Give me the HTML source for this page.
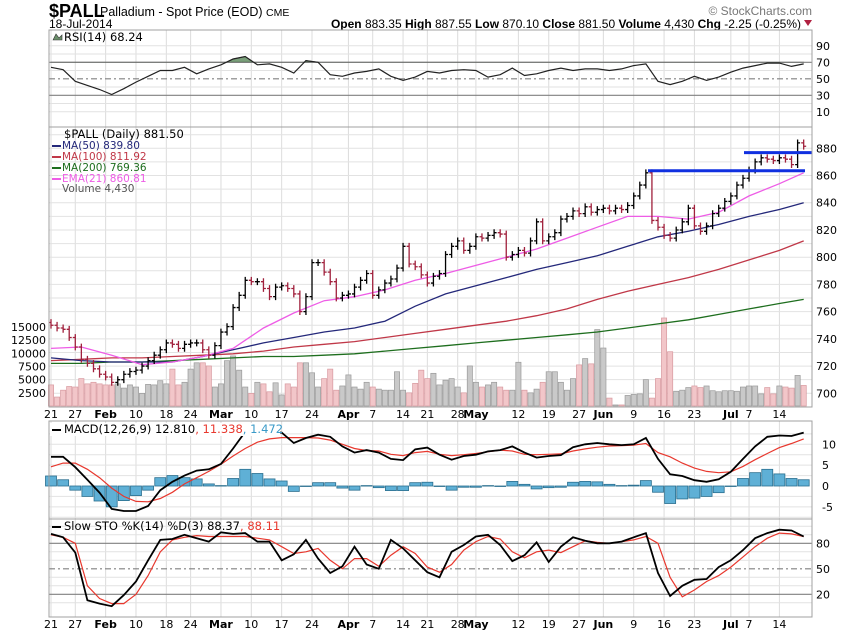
<!DOCTYPE html>
<html><head><meta charset="utf-8"><style>
html,body{margin:0;padding:0;background:#fff;}
svg{display:block;font-family:"DejaVu Sans","Liberation Sans",sans-serif;}
</style></head><body>
<svg id="chart" width="850" height="633" viewBox="0 0 850 633">
<g>
<text x="49" y="17" font-size="18" font-weight="bold" font-family="Liberation Sans, sans-serif">$PALL</text>
<text x="100" y="16" font-size="12.5" font-family="Liberation Sans, sans-serif">Palladium - Spot Price (EOD) <tspan font-size="10.5">CME</tspan></text>
<text x="49" y="28" font-size="12" font-family="Liberation Sans, sans-serif">18-Jul-2014</text>
<text x="812" y="15" font-size="12" fill="#777" text-anchor="end" font-family="Liberation Sans, sans-serif">© StockCharts.com</text>
<text x="801" y="28" font-size="12" text-anchor="end" font-family="Liberation Sans, sans-serif"><tspan font-weight="bold">Open</tspan> 883.35  <tspan font-weight="bold">High</tspan> 887.55  <tspan font-weight="bold">Low</tspan> 870.10  <tspan font-weight="bold">Close</tspan> 881.50  <tspan font-weight="bold">Volume</tspan> 4,430  <tspan font-weight="bold">Chg</tspan> -2.25 (-0.25%)</text>
<polygon points="804,20 812,20 808,26" fill="#b02040"/>
</g>
<g id="grid"></g>
<g id="marks"></g>
<g id="frames"></g>
<g id="labels"></g>
</svg>
<script>
// ---- data ----
const closes = [750,748,747,741,734,725,722,718,714,
712,708,710,714,716,717,720,724,728,732,737,736,733,736,737,737,732,728,735,
745,749,763,772,783,782,782,777,771,778,779,777,773,760,771,796,796,789,782,770,772,
773,778,783,788,772,776,781,784,792,808,795,793,787,781,786,788,802,808,812,805,808,
815,814,816,818,817,800,802,805,803,812,826,812,815,818,828,830,834,832,837,833,835,
836,834,836,835,838,845,853,862,827,822,816,814,820,826,836,823,819,823,832,836,841,
845,853,858,864,870,873,872,871,873,872,868,884,881.5];
const firstOpen = 752;
const volumes = [4000,1700,3000,3700,3600,5200,4200,4500,4200,
4000,4000,4200,3400,4000,3600,2400,4100,4000,4800,4200,7000,4000,4500,7000,8200,8200,7600,3600,
4200,8600,9500,6800,3600,2400,4500,4200,2700,4400,2100,4200,3600,8200,8200,6300,3600,5200,7000,3000,3800,
5900,3600,3200,4500,3600,3200,3000,3000,6500,3000,2500,4300,6800,5200,6200,4000,4900,5200,3600,2500,7600,
4500,3600,4000,4500,3600,3000,3000,8300,3000,2500,3200,4500,6500,6500,4500,3000,5200,7800,9000,8000,14500,
11000,1500,200,200,2000,2200,2300,5000,1500,5200,16700,10300,2800,3000,3500,3800,3500,3800,2900,2700,2900,
2900,2800,3600,3800,3800,2300,3500,2300,3800,3600,3400,5800,3900];
const ma50 = [726,724,723,723,723,727,732,737,741,745,748,753,764,773,779,785,791,796,801,808,815,819,824,830,835,840];
const ma100 = [724,725,726,726,727,728,729,731,734,736,738,741,744,747,750,753,757,762,769,775,780,785,791,798,805,812];
const ma200 = [722,722,723,723,724,725,726,727,727,728,729,731,733,735,737,739,741,743,745,748,751,754,758,762,766,769];
const ema21 = [733,734,728,721,723,727,733,748,759,768,771,776,783,788,794,800,806,814,822,830,830,828,833,845,854,862];
const rsi = [64,61,47,42,37,31,38,46,53,60,60,64,56,62,67,74,77,67,68,64,57,72,70,55,53,57,59,62,53,48,52,59,57,60,61,60,52,55,63,54,56,60,63,60,62,62,60,62,66,68,47,43,47,53,48,52,58,63,66,69,69,65,68];
const macd = [7,7,4.5,1.5,-1.6,-5.5,-6,-6,-4.8,-1,1,2.5,3.7,4,5.3,9,13,13.5,13,12.8,10.3,11.5,12.3,11.8,9.5,8,8.6,8,6.5,6.2,8.8,9.2,7.5,6.3,7.2,7.5,8.3,8.6,9.5,8,6.8,7.2,7.4,9.3,10,10.3,10,9.8,10,11.5,6.5,2.8,2.4,1.4,1,1.6,3.4,6.5,9.5,11.8,12.1,12,12.8];
const signal = [4.6,5.5,5.5,4,2,-0.5,-2.5,-3.7,-3.8,-3,-1.5,0.5,2,3.5,5.2,7.2,9,10.5,11.3,11.6,11.6,11.6,11.5,11,10,9,8.5,8.4,7.6,7.3,8,8.3,7.6,7.3,7.5,7.8,8.2,8.6,8.4,7.6,7.5,7.6,7.7,8.4,8.9,9.3,9.6,9.7,9.8,10.2,8,7,5.5,4.3,3.5,3.2,3.4,4.7,6.3,7.8,9.2,10.2,11.3];
const stoK = [91,87,69,13,9,6,19,35,60,84,85,90,86,82,93,91,92,82,82,60,67,84,62,45,53,76,55,50,84,74,60,46,40,70,78,88,90,78,59,66,81,58,76,87,83,80,80,82,87,92,45,18,30,37,38,52,60,72,86,92,96,95,88];
const stoD = [90,87,80,30,15,9,9,20,42,70,84,87,89,88,88,88,88,86,84,76,68,70,74,60,50,62,62,53,66,76,68,52,46,55,72,82,88,85,70,63,70,72,69,76,83,81,80,82,84,88,80,40,17,25,35,42,52,64,76,86,92,91,88];
const dateLabels = ["21","27","Feb","10","18","24","Mar","10","17","24","Apr","7","14","21","28","May","12","19","27","Jun","9","16","23","Jul","7","14"];
const dateIdx = [0,4,9,14,19,23,28,33,38,43,49,53,58,62,67,70,77,82,87,91,96,101,106,112,115,120];
const rsiTicks = [90,70,50,30,10];
const priceTicks = [880,860,840,820,800,780,760,740,720,700];
const volTicks = [15000,12500,10000,7500,5000,2500];
const macdTicks = [10,5,0,-5];
const stoTicks = [80,50,20];
const resistanceLevels = [863.5,876.8];

const L=49,R=812;
const xDay=i=>51+i*6.07;
const xS2=k=>xDay(2*k);
const xS5=k=>xDay(Math.min(5*k,124));
const yRsi=v=>62.3+(70-v)*0.825;
const yP=v=>148.3+(880-v)*1.3611;
const yV=v=>406-v*0.00527;
const yM=v=>486-v*4.17;
const yS=v=>611.3-v*0.85;
const NS='http://www.w3.org/2000/svg';
function mk(parent,tag,attrs){const e=document.createElementNS(NS,tag);for(const k in attrs)e.setAttribute(k,attrs[k]);document.getElementById(parent).appendChild(e);return e;}
function pathOf(arr,xf,yf){return arr.map((v,k)=>(k?'L':'M')+xf(k).toFixed(1)+','+yf(v).toFixed(1)).join('');}

const panels=[[30,127],[127,407],[421,519],[519,617]];
dateIdx.forEach((d,j)=>{
  const x=xDay(d);
  panels.forEach(p=>{
    const g=mk('grid','line',{x1:x,x2:x,y1:p[0],y2:p[1],stroke:'#dcdcdc','stroke-width':1});
    
    
  });
});
function hgrid(vals,yf,name){vals.forEach(v=>{const g=mk('grid','line',{x1:L,x2:R,y1:yf(v),y2:yf(v),stroke:'#e2e2e2','stroke-width':1});

});}
hgrid([10,20,40,60,80,90],yRsi,'rsi-gridline');
hgrid([890,880,870,860,850,840,830,820,810,800,790,780,770,760,750,740,730,720,710,700],yP,'price-gridline');
hgrid([12.5,10,7.5,5,2.5,-2.5,-5,-7.5],yM,'macd-gridline');
hgrid([100,90,70,60,40,30,10],yS,'sto-gridline');
function ref(y,dash,name){const e=mk('grid','line',{x1:L,x2:R,y1:y,y2:y,stroke:'#808080','stroke-width':1.2});if(dash)e.setAttribute('stroke-dasharray','6,3,2,3');

}
ref(yRsi(70),0,'rsi-overbought-line');ref(yRsi(30),0,'rsi-oversold-line');ref(yRsi(50),1,'rsi-midline');
ref(yS(80),0,'sto-overbought-line');ref(yS(20),0,'sto-oversold-line');ref(yS(50),1,'sto-midline');

volumes.forEach((v,i)=>{
  const prev=i?closes[i-1]:firstOpen;
  const down=closes[i]<prev;
  const b=mk('marks','rect',{x:xDay(i)-2.6,y:yV(v),width:5.2,height:406-yV(v),fill:down?'#f2c6c9':'#c9c9c9',stroke:down?'#d89aa0':'#9a9a9a','stroke-width':0.7});
  
  
});
[[ma200,'#1e6e1e','ma200-line'],[ma100,'#c03848','ma100-line'],[ma50,'#24287a','ma50-line'],[ema21,'#ee5ce6','ema21-line']].forEach(a=>{
  const p=mk('marks','path',{d:pathOf(a[0],xS5,yP),fill:'none',stroke:a[1],'stroke-width':1.3});
  
  
});
closes.forEach((c,i)=>{
  const o=i?closes[i-1]:firstOpen;
  const down=c<o;
  const col=down?'#a0203c':'#000';
  const hi=Math.max(o,c)+2.5,lo=Math.min(o,c)-2.5;
  const x=xDay(i);
  const d='M'+x+','+yP(hi)+'V'+yP(lo)+'M'+(x-2.5)+','+yP(o)+'H'+x+'M'+x+','+yP(c)+'H'+(x+2.5);
  const p=mk('marks','path',{d:d,stroke:col,'stroke-width':1.3,fill:'none'});
  
  
});
[[resistanceLevels[0],648,805],[resistanceLevels[1],744,812]].forEach(r=>{
  const l=mk('marks','line',{x1:r[1],x2:r[2],y1:yP(r[0]),y2:yP(r[0]),stroke:'#1030e0','stroke-width':3});
  
  
});
mk('marks','clipPath',{id:'rsiclip'});
const rc=document.createElementNS(NS,'rect');rc.setAttribute('x',L);rc.setAttribute('y',30);rc.setAttribute('width',R-L);rc.setAttribute('height',yRsi(70)-30);document.getElementById('rsiclip').appendChild(rc);
const rf=mk('marks','path',{d:pathOf(rsi,xS2,yRsi)+'L'+xS2(rsi.length-1)+','+yRsi(70)+'L'+xS2(0)+','+yRsi(70)+'Z',fill:'#7a9f7a',stroke:'#333','stroke-width':0.8,'clip-path':'url(#rsiclip)'});


const rl=mk('marks','path',{d:pathOf(rsi,xS2,yRsi),fill:'none',stroke:'#222','stroke-width':1.2});


macd.forEach((m,k)=>{
  const h=m-signal[k];
  const y0=Math.min(yM(0),yM(h)),hh=Math.abs(yM(h)-yM(0));
  const b=mk('marks','rect',{x:xS2(k)-5.5,y:y0,width:11,height:Math.max(hh,0.5),fill:'#5fb0d6',stroke:'#2a6f8f','stroke-width':0.8});
  
  
});
mk('marks','clipPath',{id:'mclip'});
const mc=document.createElementNS(NS,'rect');mc.setAttribute('x',L);mc.setAttribute('y',421);mc.setAttribute('width',R-L);mc.setAttribute('height',98);document.getElementById('mclip').appendChild(mc);
const ms=mk('marks','path',{d:pathOf(signal,xS2,yM),fill:'none',stroke:'#e8382e','stroke-width':1.2,'clip-path':'url(#mclip)'});


const ml=mk('marks','path',{d:pathOf(macd,xS2,yM),fill:'none',stroke:'#000','stroke-width':1.8,'clip-path':'url(#mclip)'});


const sd=mk('marks','path',{d:pathOf(stoD,xS2,yS),fill:'none',stroke:'#e8382e','stroke-width':1.2});


const sk=mk('marks','path',{d:pathOf(stoK,xS2,yS),fill:'none',stroke:'#000','stroke-width':1.8});



panels.forEach(p=>{
  const f=mk('frames','rect',{x:L,y:p[0],width:R-L,height:p[1]-p[0],fill:'none',stroke:'#a0a0a0','stroke-width':1});
  
  
});
function txt(x,y,s,attrs,name){const t=mk('labels','text',Object.assign({x:x,y:y,'font-size':11,fill:'#000'},attrs||{}));t.textContent=s;

return t;}
rsiTicks.forEach(v=>txt(816,yRsi(v)+4,String(v),{},'rsi-tick-label'));
priceTicks.forEach(v=>txt(816,yP(v)+4,String(v),{},'price-tick-label'));
volTicks.forEach(v=>txt(46,yV(v)+4,String(v),{'text-anchor':'end'},'volume-tick-label'));
macdTicks.forEach(v=>txt(822,yM(v)+4,String(v),{},'macd-tick-label'));
stoTicks.forEach(v=>txt(816,yS(v)+4,String(v),{},'sto-tick-label'));
dateLabels.forEach((s,j)=>{
  const bold=isNaN(+s);
  txt(xDay(dateIdx[j]),418,s,{'text-anchor':'middle','font-weight':bold?'bold':'normal'},'date-label');
  txt(xDay(dateIdx[j]),628,s,{'text-anchor':'middle','font-weight':bold?'bold':'normal'},'date-label-bottom');
});
const lg=[['RSI(14) 68.24',64,41,'#000','rsi-legend'],['$PALL (Daily) 881.50',64,138,'#000','price-legend'],['MA(50) 839.80',62,149,'#24287a','ma50-legend'],['MA(100) 811.92',62,160,'#c03848','ma100-legend'],['MA(200) 769.36',62,171,'#1e6e1e','ma200-legend'],['EMA(21) 860.81',62,182,'#ee5ce6','ema21-legend'],['Volume 4,430',62,192,'#555','volume-legend']];
lg.forEach(a=>txt(a[1],a[2],a[0],{fill:a[3],'font-size':a[4]=='rsi-legend'||a[4]=='price-legend'?11.5:10.5},a[4]));
[['#24287a',146],['#c03848',157],['#1e6e1e',168],['#ee5ce6',179]].forEach(c=>{const l=mk('labels','line',{x1:52,x2:61,y1:c[1],y2:c[1],stroke:c[0],'stroke-width':2});

});
const ri=mk('labels','path',{d:'M53,40 L56,34 L59,38 L62,35 L62,40Z',fill:'#6a8f6a',stroke:'#333','stroke-width':0.6});


const bg1=mk('labels','rect',{x:50,y:423,width:230,height:13,fill:'#fff'});


const mlg=txt(64,433,'MACD(12,26,9) 12.810',{'font-size':11.5},'macd-legend');
const t2=document.createElementNS(NS,'tspan');t2.setAttribute('fill','#e8382e');t2.textContent=', 11.338';mlg.appendChild(t2);
const t3=document.createElementNS(NS,'tspan');t3.setAttribute('fill','#3a9ac8');t3.textContent=', 1.472';mlg.appendChild(t3);
const slg=txt(64,530,'Slow STO %K(14) %D(3) 88.37',{'font-size':11.5},'sto-legend');
const t4=document.createElementNS(NS,'tspan');t4.setAttribute('fill','#e8382e');t4.textContent=', 88.11';slg.appendChild(t4);
[[430],[527]].forEach(c=>{const l=mk('labels','line',{x1:52,x2:61,y1:c[0],y2:c[0],stroke:'#000','stroke-width':2});

});
</script>
</body></html>
